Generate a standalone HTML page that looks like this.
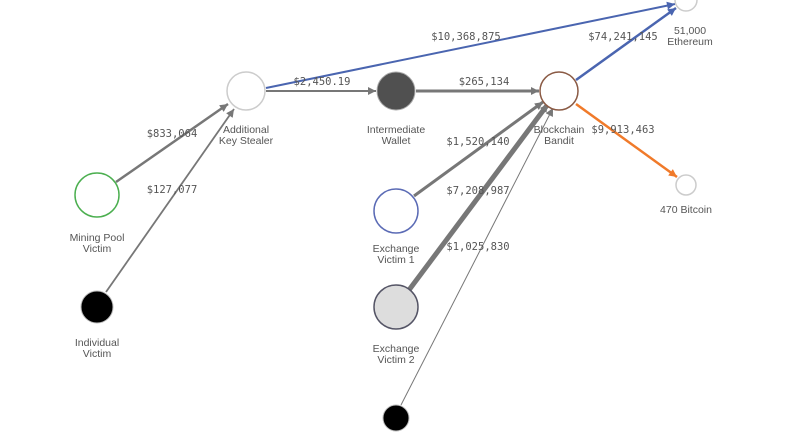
<!DOCTYPE html>
<html><head><meta charset="utf-8"><style>
body{margin:0;background:#fff}
svg{display:block}
.l{font-family:"Liberation Sans","DejaVu Sans",sans-serif;font-size:10.5px;fill:#555;text-anchor:middle}
.m{font-family:"DejaVu Sans Mono","Liberation Mono",monospace;font-size:10.5px;fill:#555;text-anchor:middle}
</style></head><body>
<svg width="800" height="445" viewBox="0 0 800 445">
<defs>
<marker id="agb" viewBox="0 0 10 10" refX="10" refY="5" markerWidth="10" markerHeight="8" orient="auto" markerUnits="userSpaceOnUse"><path d="M0,0L10,5L0,10z" fill="#777"/></marker>
<marker id="ab" viewBox="0 0 10 10" refX="10" refY="5" markerWidth="10" markerHeight="8" orient="auto" markerUnits="userSpaceOnUse"><path d="M0,0L10,5L0,10z" fill="#4a65b0"/></marker>
<marker id="ao" viewBox="0 0 10 10" refX="10" refY="5" markerWidth="10" markerHeight="8" orient="auto" markerUnits="userSpaceOnUse"><path d="M0,0L10,5L0,10z" fill="#f07a2a"/></marker>
</defs>
<g fill="none">
<line x1="116" y1="182" x2="228" y2="104" stroke="#777" stroke-width="2.5" marker-end="url(#agb)"/>
<line x1="106" y1="292" x2="234" y2="109" stroke="#777" stroke-width="1.8" marker-end="url(#agb)"/>
<line x1="266" y1="91" x2="376" y2="91" stroke="#777" stroke-width="2" marker-end="url(#agb)"/>
<line x1="266" y1="88" x2="675" y2="4" stroke="#4a65b0" stroke-width="2" marker-end="url(#ab)"/>
<line x1="416" y1="91" x2="539" y2="91" stroke="#777" stroke-width="3" marker-end="url(#agb)"/>
<line x1="576" y1="80" x2="676" y2="8" stroke="#4a65b0" stroke-width="2.5" marker-end="url(#ab)"/>
<line x1="576" y1="104" x2="677" y2="177" stroke="#f07a2a" stroke-width="2.5" marker-end="url(#ao)"/>
<line x1="414" y1="196" x2="543" y2="102" stroke="#777" stroke-width="3" marker-end="url(#agb)"/>
<line x1="409" y1="290" x2="548" y2="104" stroke="#777" stroke-width="5" marker-end="url(#agb)"/>
<line x1="401" y1="405" x2="553" y2="108" stroke="#777" stroke-width="1" marker-end="url(#agb)"/>
</g>
<circle cx="246" cy="91" r="19" fill="#fff" stroke="#ccc" stroke-width="1.5"/>
<circle cx="396" cy="91" r="19" fill="#505050" stroke="#aaa" stroke-width="1"/>
<circle cx="559" cy="91" r="19" fill="#fff" stroke="#8a5a44" stroke-width="1.5"/>
<circle cx="686" cy="0" r="11" fill="#fff" stroke="#ccc" stroke-width="1.5"/>
<circle cx="686" cy="185" r="10" fill="#fff" stroke="#ccc" stroke-width="1.5"/>
<circle cx="97" cy="195" r="22" fill="#fff" stroke="#4caf50" stroke-width="1.5"/>
<circle cx="97" cy="307" r="16" fill="#000" stroke="#bbb" stroke-width="1"/>
<circle cx="396" cy="211" r="22" fill="#fff" stroke="#5b6bb5" stroke-width="1.5"/>
<circle cx="396" cy="307" r="22" fill="#ddd" stroke="#556" stroke-width="1.5"/>
<circle cx="396" cy="418" r="13" fill="#000" stroke="#bbb" stroke-width="1"/>
<text class="l" x="246" y="133">Additional</text><text class="l" x="246" y="144">Key Stealer</text>
<text class="l" x="396" y="133">Intermediate</text><text class="l" x="396" y="144">Wallet</text>
<text class="l" x="559" y="133">Blockchain</text><text class="l" x="559" y="144">Bandit</text>
<text class="l" x="690" y="34">51,000</text><text class="l" x="690" y="45">Ethereum</text>
<text class="l" x="686" y="213">470 Bitcoin</text>
<text class="l" x="97" y="241">Mining Pool</text><text class="l" x="97" y="252">Victim</text>
<text class="l" x="97" y="346">Individual</text><text class="l" x="97" y="357">Victim</text>
<text class="l" x="396" y="252">Exchange</text><text class="l" x="396" y="263">Victim 1</text>
<text class="l" x="396" y="352">Exchange</text><text class="l" x="396" y="363">Victim 2</text>
<text class="m" x="172" y="137">$833,064</text>
<text class="m" x="172" y="193">$127,077</text>
<text class="m" x="322" y="85">$2,450.19</text>
<text class="m" x="466" y="40">$10,368,875</text>
<text class="m" x="484" y="85">$265,134</text>
<text class="m" x="623" y="40">$74,241,145</text>
<text class="m" x="623" y="133">$9,913,463</text>
<text class="m" x="478" y="145">$1,520,140</text>
<text class="m" x="478" y="194">$7,208,987</text>
<text class="m" x="478" y="250">$1,025,830</text>
</svg>
</body></html>
